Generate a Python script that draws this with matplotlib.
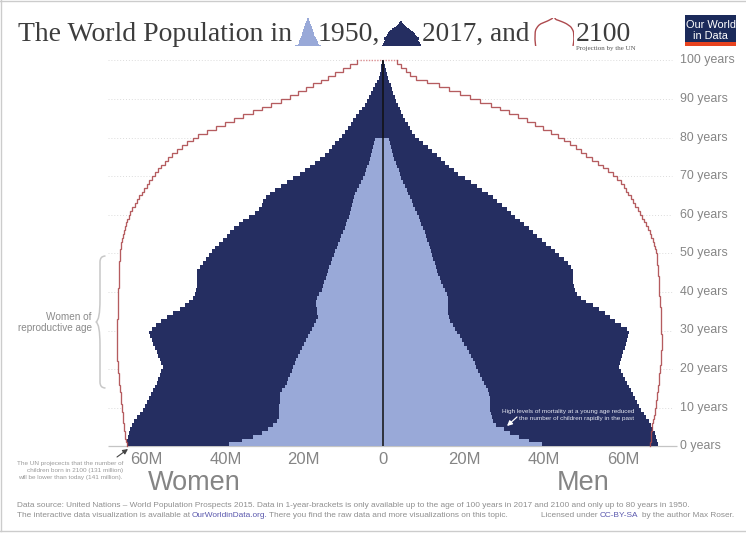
import numpy as np
import matplotlib
matplotlib.use("Agg")
import matplotlib.pyplot as plt
from matplotlib.patches import PathPatch, Rectangle
from matplotlib.path import Path

W, H = 746, 534
ages = np.arange(101)

men_2017 = [68.8,68.5,68.2,67.9,67.5,67.0,66.5,65.8,65.2,64.6,
 64.0,63.5,63.0,62.5,62.0,61.5,61.0,60.5,60.0,59.4,
 59.0,59.2,59.5,59.8,60.1,60.4,60.7,61.0,61.2,61.4,
 61.0,59.5,58.0,56.7,55.4,54.0,52.4,50.8,49.4,48.5,
 48.0,47.7,47.6,47.5,47.5,47.5,47.0,46.2,45.2,44.1,
 43.0,41.9,40.8,39.7,38.6,37.5,36.4,35.3,34.2,33.1,
 32.0,30.9,29.8,28.6,27.5,26.3,24.8,23.4,21.9,20.4,
 18.8,17.7,16.6,15.5,14.4,13.4,12.3,11.2,10.1,9.0,
 7.9,7.3,6.8,6.2,5.6,5.0,4.6,4.2,3.7,3.3,
 2.9,2.6,2.3,1.9,1.6,1.3,1.0,0.7,0.5,0.3,0.1]
women_2017 = [64.1,64.0,63.8,63.5,63.2,62.8,62.2,61.5,60.8,60.1,
 59.5,59.0,58.5,58.0,57.5,57.0,56.6,56.2,55.8,55.4,
 55.0,55.4,55.8,56.2,56.6,57.0,57.4,57.8,58.2,58.5,
 57.8,56.8,55.4,54.0,52.4,50.7,49.6,48.6,47.6,47.1,
 46.8,46.6,46.5,46.4,46.4,46.4,45.8,45.0,44.3,43.5,
 42.8,41.9,41.0,40.0,39.1,38.2,37.2,36.1,35.0,33.6,
 32.0,31.1,30.3,29.9,29.3,28.3,26.9,25.5,24.0,22.4,
 20.7,19.4,18.2,17.0,15.7,14.5,13.6,12.8,11.9,11.1,
 10.3,9.5,8.8,8.1,7.4,6.7,6.0,5.3,4.6,4.0,
 3.4,2.9,2.5,2.1,1.6,1.1,0.8,0.6,0.4,0.2,0.1]
men_1950 = [39.8,36.5,33.9,31.8,30.2,28.3,27.6,27.2,26.9,26.8,
 26.8,26.8,26.8,26.6,26.2,25.8,25.3,24.8,24.3,23.8,
 23.3,22.9,22.5,22.0,21.4,20.9,20.3,19.8,19.2,18.6,
 18.0,17.4,16.7,16.4,16.3,16.3,16.3,16.2,16.2,16.0,
 15.4,15.0,14.6,14.2,13.8,13.5,13.2,12.9,12.6,12.3,
 12.0,11.7,11.4,11.0,10.7,10.4,10.0,9.6,9.3,8.9,
 8.5,8.1,7.6,7.2,6.8,6.3,5.9,5.5,5.0,4.6,
 4.2,3.9,3.5,3.2,2.8,2.5,2.3,2.0,1.8,1.6]
women_1950 = [38.4,35.2,32.6,30.3,28.7,27.4,26.4,26.0,26.0,26.0,
 26.0,25.8,25.8,25.8,25.3,24.5,24.1,23.7,23.2,22.8,
 22.4,22.1,21.8,21.2,20.8,20.3,19.8,19.3,18.7,18.3,
 17.8,17.3,16.8,16.3,16.4,16.6,16.7,16.8,16.6,16.0,
 15.3,15.0,14.7,14.3,14.0,13.7,13.4,13.0,12.7,12.3,
 12.0,11.6,11.2,10.8,10.4,10.0,9.6,9.3,8.9,8.6,
 8.2,8.0,7.7,7.5,7.2,7.0,6.5,6.0,5.5,5.0,
 4.5,4.2,3.9,3.6,3.3,3.0,2.8,2.5,2.3,2.0]
men_2100 = [66.8,66.9,67.0,67.1,67.2,67.3,67.5,67.7,67.9,68.0,
 68.2,68.3,68.5,68.6,68.7,68.8,68.9,69.0,69.1,69.2,
 69.3,69.4,69.5,69.6,69.6,69.7,69.7,69.7,69.7,69.6,
 69.6,69.6,69.5,69.5,69.4,69.4,69.3,69.2,69.2,69.1,
 69.0,69.0,68.9,68.9,68.8,68.8,68.7,68.6,68.5,68.4,
 68.3,68.1,67.8,67.5,67.1,66.7,66.3,65.8,65.3,64.8,
 64.2,63.7,63.1,62.6,62.0,61.3,60.8,60.2,59.4,58.5,
 57.5,56.3,55.1,53.7,52.3,50.8,49.5,48.2,46.8,45.3,
 43.8,42.0,40.1,38.1,36.0,33.8,31.5,29.2,26.9,24.3,
 21.7,19.3,16.6,13.9,11.1,8.3,6.8,5.7,4.6,3.5,3.5]
women_2100 = [64.1,64.3,64.4,64.5,64.7,64.8,64.9,65.0,65.1,65.2,
 65.3,65.4,65.5,65.6,65.7,65.8,65.9,66.0,66.1,66.2,
 66.3,66.3,66.4,66.4,66.5,66.5,66.5,66.5,66.5,66.4,
 66.4,66.4,66.4,66.3,66.3,66.3,66.3,66.2,66.2,66.2,
 66.2,66.1,66.1,66.0,66.0,66.0,65.9,65.9,65.8,65.8,
 65.7,65.6,65.4,65.2,65.0,64.7,64.5,64.2,63.9,63.6,
 63.2,62.7,62.1,61.5,60.9,60.3,59.7,59.1,58.5,57.8,
 57.0,56.3,55.5,54.6,53.7,52.8,51.6,50.2,48.9,47.6,
 46.2,44.0,41.7,39.5,37.2,35.0,32.6,30.2,27.9,25.6,
 23.2,21.2,19.3,17.4,15.5,13.7,11.9,10.1,8.3,6.6,5.8]
grid_ages = [10,20,30,40,50,60,70,80,90]
year_ticks = [0,10,20,30,40,50,60,70,80,90,100]
x_labels = ["60M","40M","20M","0","20M","40M","60M"]
x_label_pos = [-59.1,-39.2,-20,0,20.4,40.2,60.2]

NAVY, LIGHT, RED = "#252e61", "#99a9d8", "#ad4a4e"
GREY, FOOT, LINK = "#858585", "#8f8f8f", "#5a58ad"
SANS, SERIF = "Liberation Sans", "Liberation Serif"

fig = plt.figure(figsize=(W/100, H/100), dpi=100, facecolor="white")
ax = fig.add_axes([0, 0, 1, 1])
ax.set_xlim((0-383)/4, (W-383)/4)
ax.set_ylim((446.3-H)/3.86, 446.3/3.86)
ax.axis("off")

def px(x, y, s, **kw):
    kw.setdefault("family", SANS); kw.setdefault("color", FOOT)
    kw.setdefault("va", "baseline")
    return fig.text(x/W, 1-y/H, s, **kw)

def dx(x): return (x-383)/4
def dy(y): return (446.3-y)/3.86

def stair(v):
    v = np.asarray(v)
    a = np.arange(len(v))
    return np.repeat(v, 2), np.column_stack([a, a+1]).ravel()

def pyramid(a, left, right, color, z):
    a.barh(np.arange(len(left)), -np.asarray(left), height=1, align="edge", color=color, lw=0, zorder=z)
    a.barh(np.arange(len(right)), right, height=1, align="edge", color=color, lw=0, zorder=z)

def red_line(a, lw):
    for sign, v in ((-1, women_2100[:-1]), (1, men_2100[:-1])):
        x, y = stair(v)
        a.plot(sign*x, y, color=RED, lw=lw, zorder=4, solid_joinstyle="miter", alpha=.9)

# grid, outside the 2100 outline only
for g in grid_ages + [100]:
    ax.hlines(g, dx(108), -women_2100[g], color="#dcdcdc", lw=.7, ls=(0,(1,2)), zorder=1)
    ax.hlines(g, men_2100[g], dx(672), color="#dcdcdc", lw=.7, ls=(0,(1,2)), zorder=1)
ax.hlines(100, -women_2100[100], men_2100[100], color="#d98f92", lw=1, ls=(0,(1,1)), zorder=4)
ax.hlines(0, dx(108), dx(677), color="#c4c4c4", lw=.9, zorder=1)

pyramid(ax, women_2017, men_2017, NAVY, 2)
pyramid(ax, women_1950, men_1950, LIGHT, 3)
red_line(ax, .95)
ax.vlines(0, 0, 100, color="#111111", lw=1.1, zorder=5)

# year labels and x labels
for t in year_ticks:
    ax.text(dx(680), t, f"{t} years", family=SANS, fontsize=8.9, color=GREY, va="center", ha="left")
for p, s in zip(x_label_pos, x_labels):
    ax.text(p, dy(459.5), s, family=SANS, fontsize=12, color=GREY, ha="center", va="center")
px(194.5, 490, "Women", fontsize=19.5, color=GREY, ha="center")
px(583, 490, "Men", fontsize=19.5, color=GREY, ha="center")

# title
TC = "#3d3d3d"
px(18, 41, "The World Population in", family=SERIF, fontsize=20, color=TC)
px(318, 41, "1950,", family=SERIF, fontsize=20, color=TC)
px(422, 41, "2017, and", family=SERIF, fontsize=19.6, color=TC)
px(576, 41, "2100", family=SERIF, fontsize=20, color=TC)
px(576, 50, "Projection by the UN", family=SERIF, fontsize=5, color="#555555")

# title icons drawn from the same arrays
def icon(x0, x1, y0, y1):
    a = fig.add_axes([x0/W, 1-y1/H, (x1-x0)/W, (y1-y0)/H])
    a.axis("off")
    return a
a = icon(294, 322, 18, 46); pyramid(a, women_1950, men_1950, LIGHT, 2)
a.set_xlim(-39, 39); a.set_ylim(0, 80)
a = icon(381, 421, 19, 46); pyramid(a, women_2017, men_2017, NAVY, 2)
a.set_xlim(-68, 68); a.set_ylim(0, 100)
a = icon(534, 574, 18, 46)
for sign, v in ((-1, women_2100), (1, men_2100)):
    a.plot(sign*np.asarray(v), ages, color=RED, lw=1)
a.set_xlim(-70, 70); a.set_ylim(0, 101)

# logo
fig.add_artist(Rectangle((685/W, 1-46/H), 51/W, 31.5/H, transform=fig.transFigure, color="#1b2a5a", lw=0))
fig.add_artist(Rectangle((685/W, 1-46/H), 51/W, 4/H, transform=fig.transFigure, color="#e8431f", lw=0))
px(710.5, 28, "Our World", fontsize=7.9, color="white", ha="center")
px(710.5, 39, "in Data", fontsize=7.9, color="white", ha="center")

# reproductive age brace
verts = [(105.5,256),(100,256),(100,262),(100,300),(100,320),(96,322),(100,324),
         (100,345),(100,382),(100,388),(105.5,388)]
codes = [Path.MOVETO,Path.CURVE3,Path.CURVE3,Path.LINETO,Path.CURVE3,Path.CURVE3,Path.CURVE3,Path.LINETO,
         Path.LINETO,Path.CURVE3,Path.CURVE3]
ax.add_patch(PathPatch(Path([(dx(x), dy(y)) for x, y in verts], codes), fc="none", ec="#c8c8c8", lw=1.1, zorder=2))
px(92, 322.5, "Women of\nreproductive age", fontsize=7.2, color="#8a8a8a", ha="right", va="center", linespacing=1.15, multialignment="right")

# notes
px(123, 470.5, "The UN projecects that the number of\nchildren born in 2100 (131 million)\nwill be lower than today (141 million).",
   fontsize=4.6, color="#9a9a9a", ha="right", va="center", linespacing=1.45, multialignment="right")
ax.annotate("", xy=(dx(128), dy(449)), xytext=(dx(117), dy(457)),
            arrowprops=dict(arrowstyle="-|>,head_width=.15,head_length=.3", color="#444444", lw=.8, shrinkA=0, shrinkB=0))
px(634, 415, "High levels of mortality at a young age reduced\nthe number of children rapidly in the past",
   fontsize=4.55, color="#e4e6f0", ha="right", va="center", linespacing=1.45, multialignment="right", zorder=10)
ax.annotate("", xy=(dx(507), dy(426)), xytext=(dx(517), dy(417)),
            arrowprops=dict(arrowstyle="-|>,head_width=.15,head_length=.3", color="white", lw=.9, shrinkA=0, shrinkB=0), zorder=10)

# footer
fs = 5.93
px(17, 507, "Data source: United Nations – World Population Prospects 2015. Data in 1-year-brackets is only available up to the age of 100 years in 2017 and 2100 and only up to 80 years in 1950.", fontsize=fs)
px(17, 517, "The interactive data visualization is available at", fontsize=fs)
px(191.7, 517, "OurWorldinData.org.", fontsize=fs, color=LINK)
px(269, 517, "There you find the raw data and more visualizations on this topic.", fontsize=fs)
px(540.7, 517, "Licensed under", fontsize=fs)
px(600, 517, "CC-BY-SA", fontsize=fs, color=LINK)
px(641.7, 517, "by the author Max Roser.", fontsize=fs)

# frame
for (x0, y0, x1, y1) in [(0,0.5,W,0.5),(0.7,0,0.7,531),(0,530.7,W,530.7)]:
    fig.add_artist(plt.Line2D([x0/W, x1/W], [1-y0/H, 1-y1/H], color="#cccccc", lw=1, transform=fig.transFigure))

fig.savefig("out.png", dpi=100, facecolor="white")
